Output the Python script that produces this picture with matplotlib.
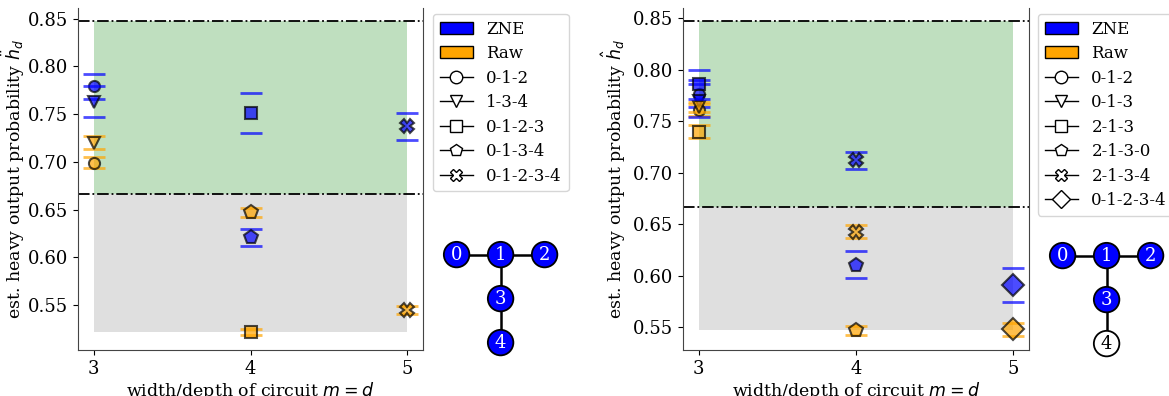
import matplotlib
matplotlib.use("Agg")
import matplotlib.pyplot as plt
from matplotlib.patches import Patch, Circle
from matplotlib.lines import Line2D

plt.rcParams['font.family'] = ['DejaVu Serif']
plt.rcParams['font.size'] = 12

# heavy output thresholds
ideal_hop = 0.847
threshold = 2 / 3

# left device: 5 qubit T layout, all qubits used
left_circuits = ['0-1-2', '1-3-4', '0-1-2-3', '0-1-3-4', '0-1-2-3-4']
left_markers = ['o', 'v', 's', 'p', 'X']
left_m = [3, 3, 4, 4, 5]
left_zne = [0.779, 0.763, 0.751, 0.621, 0.737]
left_zne_err = [0.013, 0.016, 0.021, 0.009, 0.0145]
left_raw = [0.699, 0.720, 0.522, 0.647, 0.545]
left_raw_err = [0.006, 0.0065, 0.0035, 0.005, 0.0045]
left_active = [0, 1, 2, 3, 4]

# right device
right_circuits = ['0-1-2', '0-1-3', '2-1-3', '2-1-3-0', '2-1-3-4', '0-1-2-3-4']
right_markers = ['o', 'v', 's', 'p', 'X', 'D']
right_m = [3, 3, 3, 4, 4, 5]
right_zne = [0.777, 0.770, 0.786, 0.611, 0.712, 0.591]
right_zne_err = [0.013, 0.016, 0.014, 0.013, 0.008, 0.0165]
right_raw = [0.761, 0.764, 0.740, 0.547, 0.643, 0.548]
right_raw_err = [0.006, 0.005, 0.006, 0.004, 0.006, 0.006]
right_active = [0, 1, 2, 3]

# coupling map (qubit -> grid position) and edges
node_pos = {0: (0, 0), 1: (1, 0), 2: (2, 0), 3: (1, -1), 4: (1, -2)}
edges = [(0, 1), (1, 2), (1, 3), (3, 4)]

marker_size = {'o': 8, 'v': 8, 's': 8, 'p': 10, 'X': 10, 'D': 11}

W, H = 1169, 396


def draw_panel(ax, m, zne, zne_err, raw, raw_err, markers, ylabel, label_x):
    x0, x1 = min(m), max(m)
    ax.fill_between([x0, x1], threshold, ideal_hop, color='green', alpha=0.25, lw=0)
    ax.fill_between([x0, x1], min(raw), threshold, color='gray', alpha=0.25, lw=0)
    ax.axhline(ideal_hop, color='k', ls='-.', lw=1.3)
    ax.axhline(threshold, color='k', ls='-.', lw=1.3)
    for i in range(len(m)):
        ms = marker_size[markers[i]]
        ax.errorbar(m[i], zne[i], yerr=zne_err[i], fmt='none', ecolor='blue', alpha=0.7,
                    capsize=8, capthick=2, elinewidth=0)
        ax.errorbar(m[i], raw[i], yerr=raw_err[i], fmt='none', ecolor='orange', alpha=0.7,
                    capsize=8, capthick=2, elinewidth=0)
        ax.plot(m[i], zne[i], marker=markers[i], ms=ms, mfc='blue', mec='k', mew=1.5,
                alpha=0.7, ls='none')
        ax.plot(m[i], raw[i], marker=markers[i], ms=ms, mfc='orange', mec='k', mew=1.5,
                alpha=0.7, ls='none')
    ax.set_xlim(2.9, 5.1)
    ax.set_xticks([3, 4, 5])
    ax.set_yticks([0.55, 0.60, 0.65, 0.70, 0.75, 0.80, 0.85])
    ax.tick_params(labelsize=13)
    ax.spines['top'].set_visible(False)
    for s in ['left', 'right', 'bottom']:
        ax.spines[s].set_color('#444444')
    ax.set_xlabel('width/depth of circuit $m = d$', fontsize=12.5, labelpad=2)
    ax.set_ylabel(ylabel, fontsize=12.5)
    ax.yaxis.set_label_coords(label_x, 0.5)


def draw_legend(fig, circuits, markers, anchor):
    handles = [Patch(facecolor='blue', edgecolor='k', label='ZNE'),
               Patch(facecolor='orange', edgecolor='k', label='Raw')]
    for c, mk in zip(circuits, markers):
        handles.append(Line2D([0], [0], color='k', lw=1, marker=mk, ms=9,
                              mfc='white', mec='k', label=c))
    fig.legend(handles=handles, loc='upper left', bbox_to_anchor=anchor,
               fontsize=12, labelspacing=0.45, borderpad=0.4, handletextpad=0.8,
               borderaxespad=0)


def draw_graph(fig, left_px, top_px, active):
    unit = 44
    ax = fig.add_axes([left_px / W, 1 - (top_px + 2.8 * unit) / H, 2.8 * unit / W, 2.8 * unit / H])
    for a, b in edges:
        (xa, ya), (xb, yb) = node_pos[a], node_pos[b]
        ax.plot([xa, xb], [ya, yb], color='k', lw=1.8, zorder=1)
    for q, (x, y) in node_pos.items():
        on = q in active
        ax.add_patch(Circle((x, y), 0.29, facecolor='blue' if on else 'white',
                            edgecolor='k', lw=1.3, zorder=2))
        ax.text(x, y, str(q), ha='center', va='center', fontsize=13,
                color='white' if on else 'k', zorder=3)
    ax.set_xlim(-0.4, 2.4)
    ax.set_ylim(-2.4, 0.4)
    ax.set_aspect('equal')
    ax.axis('off')


fig = plt.figure(figsize=(W / 100, H / 100), dpi=100)

ax1 = fig.add_axes([78 / W, 46 / H, 345 / W, 342 / H])
draw_panel(ax1, left_m, left_zne, left_zne_err, left_raw, left_raw_err, left_markers,
           r'est. heavy output probability $\ddot{h}_d$', -0.148)
ax1.set_ylim(0.503, 0.861)

ax2 = fig.add_axes([683 / W, 46 / H, 346 / W, 342 / H])
draw_panel(ax2, right_m, right_zne, right_zne_err, right_raw, right_raw_err, right_markers,
           r'est. heavy output probability $\hat{h}_d$', -0.159)
ax2.set_ylim(0.528, 0.860)

draw_legend(fig, left_circuits, left_markers, (433 / W, 1 - 14 / H))
draw_legend(fig, right_circuits, right_markers, (1038 / W, 1 - 14 / H))

draw_graph(fig, 439, 237, left_active)
draw_graph(fig, 1045, 238, right_active)

fig.savefig('out.png', dpi=100)
